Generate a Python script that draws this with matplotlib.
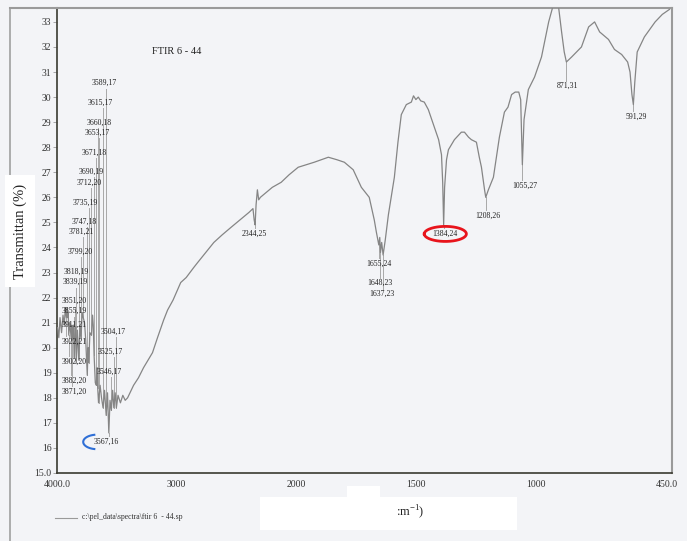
import numpy as np
import matplotlib
matplotlib.use("Agg")
import matplotlib.pyplot as plt
from matplotlib.lines import Line2D
from matplotlib.patches import Rectangle

# spectrum (wavenumber cm-1, transmittance %)
wavenumber = [3995, 3985, 3975, 3962, 3950, 3940, 3930, 3922, 3916, 3911, 3906, 3902,
              3893, 3882, 3876, 3871, 3862, 3855, 3853, 3851, 3845, 3839, 3830, 3818,
              3808, 3799, 3790, 3781, 3770, 3760, 3747, 3741, 3735, 3725, 3712, 3703,
              3697, 3690, 3680, 3671, 3665, 3660, 3653, 3640, 3628, 3615, 3603, 3589,
              3578, 3567, 3557, 3546, 3535, 3525, 3514, 3504, 3490, 3470, 3450, 3430,
              3410, 3390, 3360, 3319, 3277, 3240, 3202, 3160, 3109, 3076, 3030, 2966,
              2920, 2857, 2824, 2740, 2689, 2620, 2546, 2470, 2395, 2362, 2352, 2344,
              2336, 2325, 2314, 2300, 2250, 2200, 2126, 2060, 1992, 1925, 1866, 1830,
              1799, 1762, 1728, 1695, 1674, 1665, 1655, 1651, 1648, 1643, 1637, 1628,
              1615, 1600, 1590, 1575, 1561, 1540, 1519, 1510, 1500, 1490, 1480, 1465,
              1448, 1423, 1405, 1393, 1388, 1384, 1380, 1372, 1364, 1339, 1310, 1297,
              1280, 1268, 1247, 1235, 1226, 1213, 1208, 1197, 1176, 1151, 1130, 1115,
              1100, 1085, 1070, 1062, 1055, 1048, 1030, 1004, 975, 945, 925, 905,
              891, 880, 871, 849, 808, 778, 753, 732, 695, 670, 640, 615,
              605, 597, 591, 585, 575, 545, 500, 470, 440]
transmittance = [20.8, 20.4, 21.2, 20.6, 21.3, 20.9, 21.6, 21.2, 21.6, 21.2, 21.4, 20.5,
                 21.0, 20.4, 20.9, 20.3, 20.9, 19.6, 20.4, 20.2, 20.8, 19.4, 20.7, 19.5,
                 20.9, 20.4, 21.4, 21.2, 21.0, 20.3, 18.9, 20.0, 19.4, 20.6, 20.5, 21.3,
                 20.9, 19.7, 18.6, 18.5, 19.2, 18.4, 17.8, 18.5, 18.0, 17.6, 18.3, 17.3,
                 18.2, 16.6, 17.9, 17.5, 18.3, 17.6, 18.2, 17.6, 18.1, 17.8, 18.1, 17.9,
                 18.0, 18.2, 18.5, 18.8, 19.2, 19.5, 19.8, 20.4, 21.1, 21.5, 21.9, 22.6,
                 22.8, 23.2, 23.4, 23.9, 24.2, 24.5, 24.8, 25.1, 25.4, 25.55, 25.1, 24.9,
                 25.7, 26.3, 25.9, 26.0, 26.2, 26.4, 26.6, 26.9, 27.2, 27.4, 27.6, 27.5,
                 27.4, 27.1, 26.4, 26.0, 25.1, 24.6, 24.1, 24.4, 23.8, 24.2, 23.7, 24.3,
                 25.3, 26.2, 26.8, 28.2, 29.3, 29.7, 29.8, 30.05, 29.9, 30.0, 29.85, 29.8,
                 29.5, 28.8, 28.3, 27.7, 26.6, 24.9, 26.4, 27.5, 27.9, 28.3, 28.6, 28.6,
                 28.4, 28.3, 28.2, 27.6, 27.2, 26.3, 26.0, 26.3, 26.8, 28.4, 29.4, 29.6,
                 30.1, 30.2, 30.2, 29.9, 27.3, 29.1, 30.3, 30.8, 31.6, 33.0, 33.7, 33.7,
                 32.6, 31.8, 31.4, 31.6, 32.0, 32.8, 33.0, 32.6, 32.3, 31.9, 31.7, 31.4,
                 31.0, 30.1, 29.7, 30.6, 31.8, 32.4, 33.0, 33.3, 33.5]

# peak picks printed on the chart
peak_wn = [3589, 3615, 3660, 3653, 3671, 3690, 3712, 3735, 3747, 3781, 3799, 3818,
           3839, 3851, 3855, 3911, 3922, 3902, 3882, 3871, 3504, 3525, 3546, 3567,
           2344, 1655, 1648, 1637, 1384, 1208, 1055, 871, 591]
peak_t = [17, 17, 18, 17, 18, 19, 20, 19, 18, 21, 20, 19,
          19, 20, 19, 21, 21, 20, 20, 20, 17, 17, 17, 16,
          25, 24, 23, 23, 24, 26, 27, 31, 29]

# where the pick labels sit (layout)
label_x = [3605, 3639, 3647, 3664, 3689, 3714, 3731, 3765, 3773, 3798, 3807, 3840,
           3849, 3857, 3857, 3857, 3857, 3857, 3857, 3857, 3529, 3555, 3563, 3588,
           2353, 1653, 1650, 1640, 1377, 1201, 1046, 866, 581]
label_y = [30.55, 29.79, 28.99, 28.59, 27.79, 27.03, 26.58, 25.78, 25.02, 24.62, 23.82, 23.02,
           22.62, 21.86, 21.46, 20.93, 20.25, 19.45, 18.69, 18.24, 20.65, 19.85, 19.05, 16.24,
           24.54, 23.34, 22.57, 22.13, 24.54, 25.26, 26.46, 30.43, 29.23]

xticks = [4000, 3000, 2000, 1500, 1000, 450]
xtick_labels = ['4000.0', '3000', '2000', '1500', '1000', '450.0']
yticks = list(range(15, 34))
ytick_labels = ['15.0'] + [str(v) for v in range(16, 34)]

BG = '#f3f4f7'
SERIF = ['Liberation Serif', 'DejaVu Serif']


# instrument style axis: 2x expansion below 2000 cm-1
def fwd(x):
    x = np.asarray(x, dtype=float)
    return np.where(x < 2000, x, 2000 + (x - 2000) / 2.0)


def inv(f):
    f = np.asarray(f, dtype=float)
    return np.where(f < 2000, f, 2000 + (f - 2000) * 2.0)


plt.rcParams['font.family'] = SERIF
fig = plt.figure(figsize=(6.87, 5.41), dpi=100, facecolor=BG)
ax = fig.add_axes([0.083, 0.1257, 0.895, 0.8593])
ax.set_facecolor(BG)
ax.set_xscale('function', functions=(fwd, inv))
ax.set_xlim(4000, 430)
ax.set_ylim(15, 33.55)

ax.plot(wavenumber, transmittance, color='#858585', lw=0.9, zorder=3)

# peak labels with leader lines
wn_sorted = np.array(wavenumber[::-1], dtype=float)
t_sorted = np.array(transmittance[::-1], dtype=float)
for wn, t, lx, ly in zip(peak_wn, peak_t, label_x, label_y):
    cur = np.interp(wn, wn_sorted, t_sorted)
    if ly > cur:
        ax.plot([wn, wn], [ly - 0.22, cur], color='#a8a8a8', lw=0.7, zorder=2)
    else:
        ax.plot([wn, wn], [cur, ly + 0.22], color='#a8a8a8', lw=0.7, zorder=2)
    ax.text(lx, ly, '%d,%d' % (wn, t), fontsize=5.6, color='#222222',
            ha='center', va='center', zorder=4)

# red ring around 1384 pick
th = np.linspace(0, 2 * np.pi, 200)
i = peak_wn.index(1384)
ax.plot(label_x[i] + 88 * np.cos(th), label_y[i] + 0.3 * np.sin(th),
        color='#e8141c', lw=2.0, zorder=5)

# blue bracket next to 3567 pick
i = peak_wn.index(3567)
th = np.radians(np.linspace(-78, 78, 60))
ax.plot(3664 + 117 * np.cos(th), label_y[i] + 0.29 * np.sin(th),
        color='#2f6fd6', lw=1.5, zorder=5)

ax.text(0.195, 0.907, 'FTIR 6 - 44', transform=ax.transAxes, fontsize=7.5,
        color='#222222', ha='center', va='center')

ax.set_xticks(xticks)
ax.set_xticklabels(xtick_labels)
ax.set_yticks(yticks)
ax.set_yticklabels(ytick_labels)
ax.tick_params(axis='x', length=0, labelsize=7, labelcolor='#333333', pad=5)
ax.tick_params(axis='y', length=3, width=0.6, color='#999999', labelsize=7,
               labelcolor='#333333', pad=1)
ax.minorticks_off()

for side in ['left', 'bottom']:
    ax.spines[side].set_color('#3a3a30')
    ax.spines[side].set_linewidth(1.2)
for side in ['top', 'right']:
    ax.spines[side].set_color('#9a9a9a')
    ax.spines[side].set_linewidth(1.5)

ax.set_ylabel('Transmittan (%)', fontsize=10.5, color='#222222',
              bbox=dict(fc='white', ec='none', pad=6))
ax.yaxis.set_label_coords(-0.049, 0.52)

# scan page border
fig.add_artist(Line2D([10 / 687, 57 / 687], [0.985, 0.985], color='#9a9a9a', lw=1.5))
fig.add_artist(Line2D([10 / 687, 10 / 687], [0.0, 0.985], color='#a0a0a0', lw=1.2, zorder=0))

# legend entry of the file
fig.add_artist(Line2D([55 / 687, 77 / 687], [1 - 518 / 541, 1 - 518 / 541], color='#9a9a9a', lw=0.8))
fig.text(82 / 687, 1 - 517 / 541, r'c:\pel_data\spectra\ftir 6  - 44.sp', fontsize=5.6,
         color='#333333', va='center', ha='left')

# white patch over the x axis title
fig.add_artist(Rectangle((260 / 687, 1 - 530 / 541), 257 / 687, 33 / 541,
                         transform=fig.transFigure, fc='white', ec='none'))
fig.add_artist(Rectangle((347 / 687, 1 - 497 / 541), 33 / 687, 11 / 541,
                         transform=fig.transFigure, fc='white', ec='none'))
fig.text(410 / 687, 1 - 512 / 541, r':m$^{\mathregular{-1}}$)', fontsize=9, color='#222222',
         ha='center', va='center')

fig.savefig('out.png', dpi=100, facecolor=BG)
